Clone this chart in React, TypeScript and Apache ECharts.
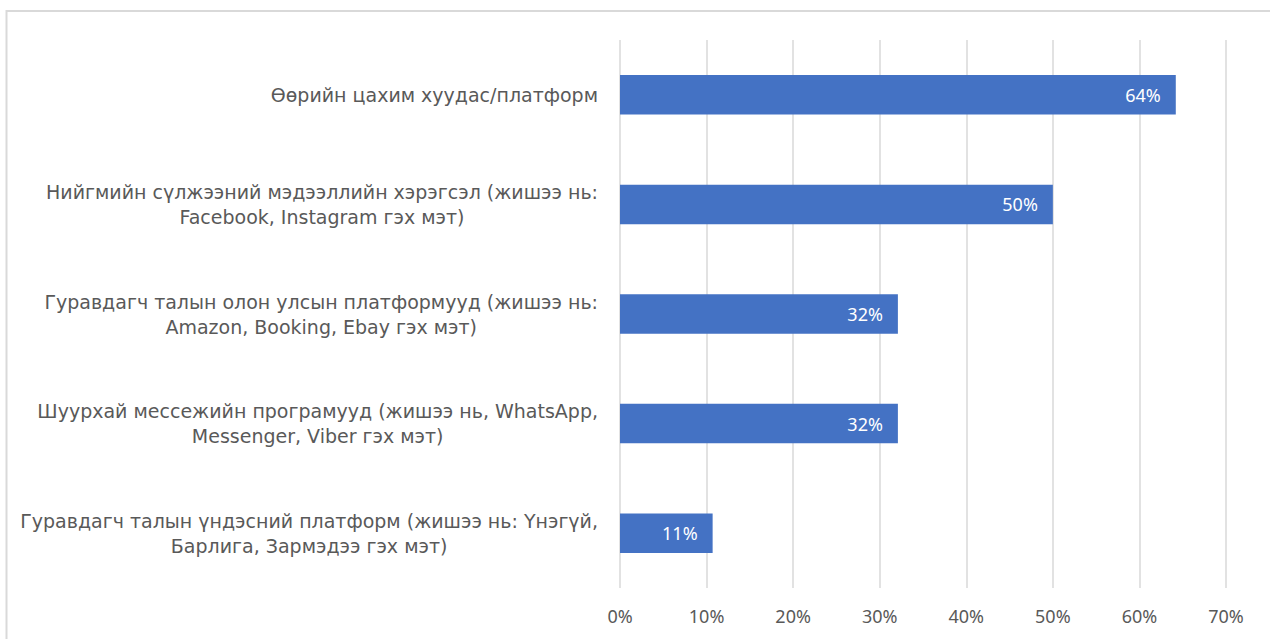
import React, { useEffect, useRef } from "react";
import * as echarts from "echarts";

const categories: string[] = [
  "Өөрийн цахим хуудас/платформ",
  "Нийгмийн сүлжээний мэдээллийн хэрэгсэл (жишээ нь:\nFacebook, Instagram гэх мэт)",
  "Гуравдагч талын олон улсын платформууд (жишээ нь:\nAmazon, Booking, Ebay гэх мэт)",
  "Шуурхай мессежийн програмууд (жишээ нь, WhatsApp,\nMessenger, Viber гэх мэт)",
  "Гуравдагч талын үндэсний платформ (жишээ нь: Үнэгүй,\nБарлига, Зармэдээ гэх мэт)",
];
const values: number[] = [64.2, 50, 32.1, 32.1, 10.7];
const xTicks = { min: 0, max: 70, interval: 10 };

export default function App() {
  const ref = useRef<HTMLDivElement>(null);
  useEffect(() => {
    document.body.style.margin = "0";
    const chart = echarts.init(ref.current!, null, { renderer: "svg" });
    const font = "'Noto Sans', 'Open Sans', sans-serif";
    const catFont = "'DejaVu Sans', 'Noto Sans', sans-serif";
    chart.setOption({
      animation: false,
      backgroundColor: "#ffffff",
      textStyle: { fontFamily: font },
      graphic: [
        {
          type: "rect",
          shape: { x: 6.5, y: 11, width: 1400, height: 800 },
          style: { fill: "none", stroke: "#d9d9d9", lineWidth: 2 },
          silent: true,
        },
      ],
      grid: { left: 620, right: 44, top: 40, bottom: 51, containLabel: false },
      xAxis: {
        type: "value",
        min: xTicks.min,
        max: xTicks.max,
        interval: xTicks.interval,
        axisLine: { show: false },
        axisTick: { show: false },
        splitLine: { show: true, lineStyle: { color: "#d9d9d9", width: 1.5 } },
        axisLabel: {
          formatter: (v: number) => `${v}%`,
          color: "#595959",
          fontSize: 18,
          fontFamily: font,
          margin: 19,
        },
      },
      yAxis: {
        type: "category",
        inverse: true,
        data: categories,
        axisLine: { show: false },
        axisTick: { show: false },
        axisLabel: {
          color: "#595959",
          fontSize: 19,
          fontFamily: catFont,
          margin: 22,
          lineHeight: 25,
          formatter: (v: string) =>
            v
              .split("\n")
              .map((l) => `{c|${l}}`)
              .join("\n"),
          rich: {
            c: {
              align: "center",
              color: "#595959",
              fontSize: 19,
              fontFamily: catFont,
              lineHeight: 25,
            },
          },
        },
      },
      series: [
        {
          type: "bar",
          data: values,
          barWidth: "36%",
          itemStyle: { color: "#4472C4" },
          label: {
            show: true,
            position: "insideRight",
            distance: 15,
            color: "#ffffff",
            fontSize: 18,
            fontFamily: font,
            formatter: (p: any) => `${Math.round(p.value)}%`,
          },
        },
      ],
    });
    return () => chart.dispose();
  }, []);
  return <div ref={ref} style={{ width: 1270, height: 639 }} />;
}
